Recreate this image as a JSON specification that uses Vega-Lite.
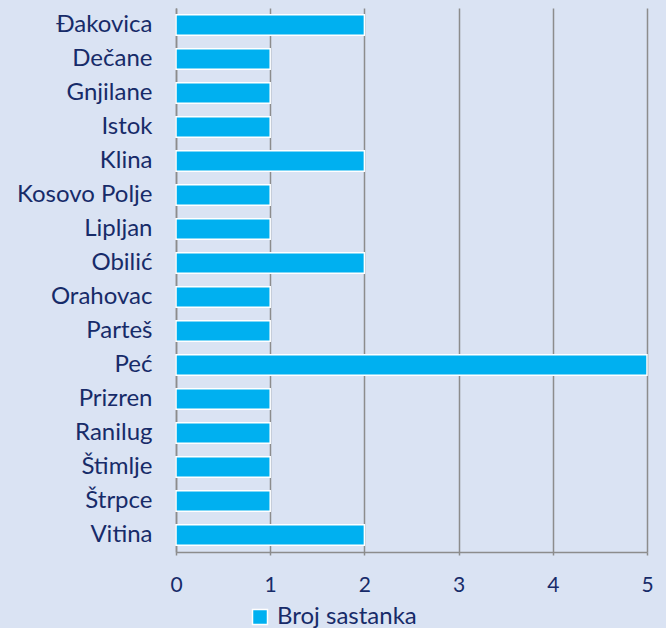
{
  "$schema": "https://vega.github.io/schema/vega-lite/v6.json",
  "autosize": "none",
  "width": 471,
  "height": 544,
  "padding": {"left": 176, "top": 8, "right": 19, "bottom": 76},
  "background": "#dae3f3",
  "config": {
    "view": {"stroke": null},
    "font": "Lato",
    "axis": {"labelFont": "Lato", "labelColor": "#172b69"},
    "legend": {"labelFont": "Lato", "labelColor": "#172b69"}
  },
  "data": {
    "values": [
      {"grad": "Đakovica", "broj": 2, "serija": "Broj sastanka"},
      {"grad": "Dečane", "broj": 1, "serija": "Broj sastanka"},
      {"grad": "Gnjilane", "broj": 1, "serija": "Broj sastanka"},
      {"grad": "Istok", "broj": 1, "serija": "Broj sastanka"},
      {"grad": "Klina", "broj": 2, "serija": "Broj sastanka"},
      {"grad": "Kosovo Polje", "broj": 1, "serija": "Broj sastanka"},
      {"grad": "Lipljan", "broj": 1, "serija": "Broj sastanka"},
      {"grad": "Obilić", "broj": 2, "serija": "Broj sastanka"},
      {"grad": "Orahovac", "broj": 1, "serija": "Broj sastanka"},
      {"grad": "Parteš", "broj": 1, "serija": "Broj sastanka"},
      {"grad": "Peć", "broj": 5, "serija": "Broj sastanka"},
      {"grad": "Prizren", "broj": 1, "serija": "Broj sastanka"},
      {"grad": "Ranilug", "broj": 1, "serija": "Broj sastanka"},
      {"grad": "Štimlje", "broj": 1, "serija": "Broj sastanka"},
      {"grad": "Štrpce", "broj": 1, "serija": "Broj sastanka"},
      {"grad": "Vitina", "broj": 2, "serija": "Broj sastanka"}
    ]
  },
  "mark": {"type": "bar", "stroke": "#ffffff", "strokeWidth": 1.5},
  "encoding": {
    "y": {
      "field": "grad",
      "type": "nominal",
      "sort": null,
      "scale": {"paddingInner": 0.4, "paddingOuter": 0.2},
      "axis": {
        "title": null,
        "ticks": false,
        "domain": true,
        "domainColor": "#8c8c8c",
        "domainWidth": 1.5,
        "labelFontSize": 24,
        "labelPadding": 24,
        "grid": false
      }
    },
    "x": {
      "field": "broj",
      "type": "quantitative",
      "scale": {"domain": [0, 5], "nice": false},
      "axis": {
        "title": null,
        "values": [0, 1, 2, 3, 4, 5],
        "format": "d",
        "grid": true,
        "gridColor": "#8c8c8c",
        "gridWidth": 1.5,
        "domain": true,
        "domainColor": "#8c8c8c",
        "domainWidth": 1.5,
        "ticks": true,
        "tickSize": 3,
        "tickColor": "#8c8c8c",
        "tickWidth": 1.5,
        "labelFontSize": 21,
        "labelPadding": 19,
        "labelFlush": false
      }
    },
    "color": {
      "field": "serija",
      "type": "nominal",
      "scale": {"range": ["#00b0f0"]},
      "legend": {
        "title": null,
        "orient": "none",
        "legendX": 72,
        "legendY": 597,
        "symbolType": "square",
        "symbolSize": 225,
        "symbolStrokeColor": "#ffffff",
        "symbolStrokeWidth": 1.5,
        "labelFontSize": 24,
        "labelOffset": 5,
        "symbolOpacity": 1
      }
    }
  }
}
